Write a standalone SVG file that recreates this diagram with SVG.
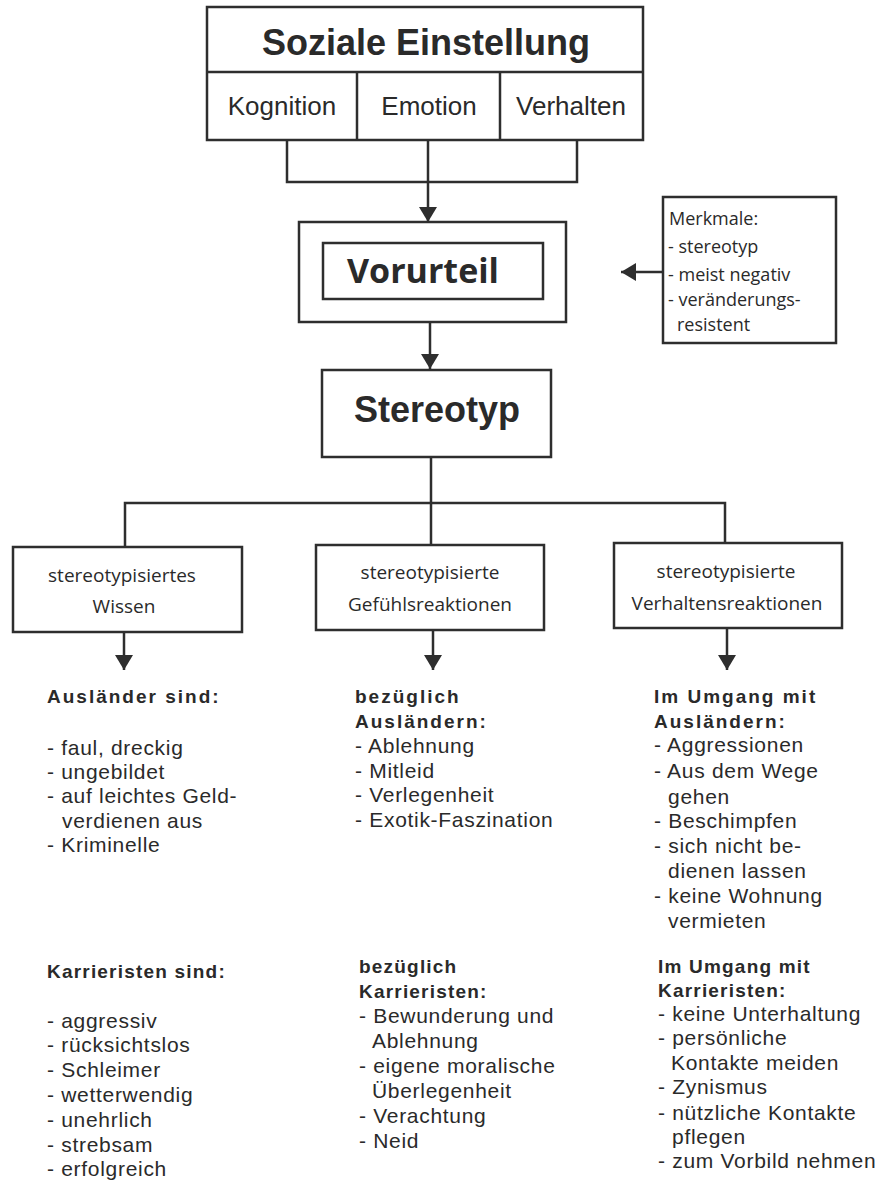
<svg xmlns="http://www.w3.org/2000/svg" width="887" height="1182" viewBox="0 0 887 1182">
<style>
.box{fill:#fff;stroke:#2e2e2e;stroke-width:2.5}
.ln{fill:none;stroke:#2e2e2e;stroke-width:2.5}
.a{font-family:"Liberation Sans",Arial,sans-serif;fill:#2a2a2a}
.o{font-family:"Open Sans","Noto Sans",sans-serif;fill:#2a2a2a}
.big{font-size:36px;font-weight:bold;text-anchor:middle}
.cell{font-size:26px;text-anchor:middle}
.sub{font-size:19px;text-anchor:middle}
.hd{font-size:19px;font-weight:bold;letter-spacing:2px}
.hd2{font-size:19px;font-weight:bold;letter-spacing:1.2px}
.tx{font-size:21px;letter-spacing:0.7px}
.mk{font-size:18px}
</style>
<defs>
<marker id="ah" markerUnits="userSpaceOnUse" markerWidth="15" markerHeight="18" refX="15" refY="9" orient="auto">
<path d="M0,0 L15,9 L0,18 z" fill="#2e2e2e"/>
</marker>
</defs>
<rect width="887" height="1182" fill="#fff"/>

<g id="connectors">
<polyline class="ln" points="287,140 287,182 577,182 577,140"/>
<line class="ln" x1="428" y1="140" x2="428" y2="222" marker-end="url(#ah)"/>
<line class="ln" x1="663" y1="272" x2="621" y2="272" marker-end="url(#ah)"/>
<line class="ln" x1="430" y1="322" x2="430" y2="369" marker-end="url(#ah)"/>
<line class="ln" x1="431" y1="457" x2="431" y2="545"/>
<polyline class="ln" points="125,547 125,503 725,503 725,543"/>
<line class="ln" x1="124" y1="632" x2="124" y2="670" marker-end="url(#ah)"/>
<line class="ln" x1="433" y1="630" x2="433" y2="670" marker-end="url(#ah)"/>
<line class="ln" x1="727" y1="628" x2="727" y2="670" marker-end="url(#ah)"/>
</g>

<g id="soziale-einstellung">
<rect class="box" x="207" y="7" width="436" height="133"/>
<line class="ln" x1="207" y1="72" x2="643" y2="72"/>
<line class="ln" x1="357" y1="72" x2="357" y2="140"/>
<line class="ln" x1="500" y1="72" x2="500" y2="140"/>
<text class="a big" x="426" y="55">Soziale Einstellung</text>
<text class="a cell" x="282" y="115">Kognition</text>
<text class="a cell" x="429" y="115">Emotion</text>
<text class="a cell" x="571" y="115">Verhalten</text>
</g>

<g id="vorurteil">
<rect class="box" x="299" y="222" width="267" height="100"/>
<rect class="box" x="323" y="243" width="220" height="56"/>
<text class="o" x="423" y="283" font-size="34" font-weight="bold" text-anchor="middle">Vorurteil</text>
</g>

<g id="merkmale">
<rect class="box" x="663" y="197" width="173" height="146"/>
<text class="o mk" x="669" y="225">Merkmale:</text>
<text class="o mk" x="668" y="253">- stereotyp</text>
<text class="o mk" x="668" y="281">- meist negativ</text>
<text class="o mk" x="668" y="306">- veränderungs-</text>
<text class="o mk" x="677" y="331">resistent</text>
</g>

<g id="stereotyp">
<rect class="box" x="322" y="370" width="229" height="87"/>
<text class="a big" x="437" y="422">Stereotyp</text>
</g>

<g id="wissen">
<rect class="box" x="13" y="547" width="229" height="85"/>
<text class="o sub" x="122" y="582">stereotypisiertes</text>
<text class="o sub" x="124" y="613">Wissen</text>
</g>

<g id="gefuehlsreaktionen">
<rect class="box" x="316" y="545" width="228" height="85"/>
<text class="o sub" x="430" y="579">stereotypisierte</text>
<text class="o sub" x="430" y="611">Gefühlsreaktionen</text>
</g>

<g id="verhaltensreaktionen">
<rect class="box" x="614" y="543" width="228" height="85"/>
<text class="o sub" x="726" y="578">stereotypisierte</text>
<text class="o sub" x="727" y="610">Verhaltensreaktionen</text>
</g>

<g id="text-wissen-auslaender">
<text class="a hd" x="47" y="703">Ausländer sind:</text>
<text class="a tx" x="47" y="755">- faul, dreckig</text>
<text class="a tx" x="47" y="779">- ungebildet</text>
<text class="a tx" x="47" y="803">- auf leichtes Geld-</text>
<text class="a tx" x="62" y="828">verdienen aus</text>
<text class="a tx" x="47" y="852">- Kriminelle</text>
</g>

<g id="text-gefuehl-auslaender">
<text class="a hd" x="355" y="703">bezüglich</text>
<text class="a hd" x="355" y="728">Ausländern:</text>
<text class="a tx" x="355" y="753">- Ablehnung</text>
<text class="a tx" x="355" y="778">- Mitleid</text>
<text class="a tx" x="355" y="802">- Verlegenheit</text>
<text class="a tx" x="355" y="827">- Exotik-Faszination</text>
</g>

<g id="text-verhalten-auslaender">
<text class="a hd" x="654" y="703">Im Umgang mit</text>
<text class="a hd" x="654" y="728">Ausländern:</text>
<text class="a tx" x="654" y="752">- Aggressionen</text>
<text class="a tx" x="654" y="778">- Aus dem Wege</text>
<text class="a tx" x="668" y="804">gehen</text>
<text class="a tx" x="654" y="828">- Beschimpfen</text>
<text class="a tx" x="654" y="853">- sich nicht be-</text>
<text class="a tx" x="668" y="878">dienen lassen</text>
<text class="a tx" x="654" y="903">- keine Wohnung</text>
<text class="a tx" x="668" y="928">vermieten</text>
</g>

<g id="text-wissen-karrieristen">
<text class="a hd2" x="47" y="978">Karrieristen sind:</text>
<text class="a tx" x="47" y="1028">- aggressiv</text>
<text class="a tx" x="47" y="1052">- rücksichtslos</text>
<text class="a tx" x="47" y="1077">- Schleimer</text>
<text class="a tx" x="47" y="1102">- wetterwendig</text>
<text class="a tx" x="47" y="1127">- unehrlich</text>
<text class="a tx" x="47" y="1152">- strebsam</text>
<text class="a tx" x="47" y="1176">- erfolgreich</text>
</g>

<g id="text-gefuehl-karrieristen">
<text class="a hd2" x="359" y="973">bezüglich</text>
<text class="a hd2" x="359" y="998">Karrieristen:</text>
<text class="a tx" x="359" y="1023">- Bewunderung und</text>
<text class="a tx" x="372" y="1048">Ablehnung</text>
<text class="a tx" x="359" y="1073">- eigene moralische</text>
<text class="a tx" x="372" y="1098">Überlegenheit</text>
<text class="a tx" x="359" y="1123">- Verachtung</text>
<text class="a tx" x="359" y="1148">- Neid</text>
</g>

<g id="text-verhalten-karrieristen">
<text class="a hd2" x="658" y="973">Im Umgang mit</text>
<text class="a hd2" x="658" y="997">Karrieristen:</text>
<text class="a tx" x="658" y="1021">- keine Unterhaltung</text>
<text class="a tx" x="658" y="1045">- persönliche</text>
<text class="a tx" x="671" y="1070">Kontakte meiden</text>
<text class="a tx" x="658" y="1094">- Zynismus</text>
<text class="a tx" x="658" y="1120">- nützliche Kontakte</text>
<text class="a tx" x="672" y="1144">pflegen</text>
<text class="a tx" x="658" y="1168">- zum Vorbild nehmen</text>
</g>
</svg>
